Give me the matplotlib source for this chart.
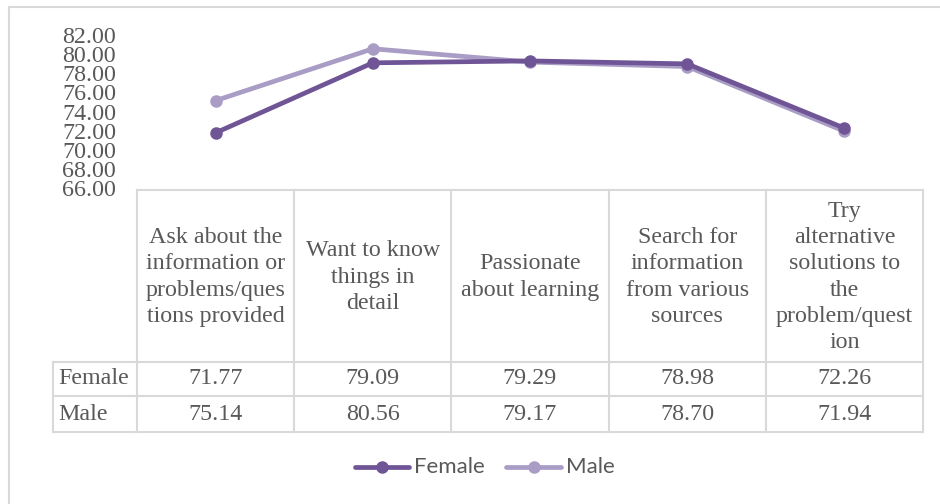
import matplotlib
matplotlib.use("Agg")
import matplotlib.pyplot as plt
from matplotlib.lines import Line2D

categories = [
    "Ask about the\ninformation or\nproblems/ques\ntions provided",
    "Want to know\nthings in\ndetail",
    "Passionate\nabout learning",
    "Search for\ninformation\nfrom various\nsources",
    "Try\nalternative\nsolutions to\nthe\nproblem/quest\nion",
]
series_names = ["Female", "Male"]
female = [71.77, 79.09, 79.29, 78.98, 72.26]
male = [75.14, 80.56, 79.17, 78.70, 71.94]
yticks = [66, 68, 70, 72, 74, 76, 78, 80, 82]

W, H = 940, 504
fig = plt.figure(figsize=(W / 100, H / 100), dpi=100)
fig.patch.set_facecolor("white")

def fx(px):
    return px / W

def fy(py):
    return 1 - py / H

serif = "Liberation Serif"
fs = 17.3
txt_col = "#595959"
grid_col = "#D9D9D9"
c_f = "#6F5596"
c_m = "#A99CC5"

# outer chart border (extends past right/bottom edges)
fig.add_artist(Line2D([fx(9), fx(9)], [fy(7), 0], color=grid_col, lw=1.5))
fig.add_artist(Line2D([fx(9), 1], [fy(7), fy(7)], color=grid_col, lw=1.5))

# plot area
L, R, T, B = 137, 923, 35, 188
ax = fig.add_axes([fx(L), fy(B), fx(R - L), (B - T) / H])
ax.set_xlim(-0.5, len(categories) - 0.5)
ax.set_ylim(yticks[0], yticks[-1])
for s in ax.spines.values():
    s.set_visible(False)
ax.set_xticks([])
ax.set_yticks(yticks)
ax.set_yticklabels([f"{v:.2f}" for v in yticks], fontfamily=serif, fontsize=fs, color=txt_col)
ax.tick_params(axis="y", length=0, pad=15)
ax.patch.set_alpha(0)

x = list(range(len(categories)))
ax.plot(x, female, color=c_f, lw=3.4, marker="o", ms=8, solid_capstyle="round", zorder=3)
ax.plot(x, male, color=c_m, lw=3.4, marker="o", ms=8, solid_capstyle="round", zorder=2)
for ln in ax.lines:
    ln.set_clip_on(False)

# data table
col_w = (R - L) / len(categories)
hdr_top, hdr_bot = 190, 362
row_bounds = [362, 396, 432]
lab_left = 53

def hline(x0, x1, y):
    fig.add_artist(Line2D([fx(x0), fx(x1)], [fy(y), fy(y)], color=grid_col, lw=1.5))

def vline(xp, y0, y1):
    fig.add_artist(Line2D([fx(xp), fx(xp)], [fy(y0), fy(y1)], color=grid_col, lw=1.5))

hline(L, R, hdr_top)
for yb in row_bounds:
    hline(lab_left, R, yb)
vline(lab_left, row_bounds[0], row_bounds[-1])
for i in range(len(categories) + 1):
    vline(L + i * col_w, hdr_top, row_bounds[-1])

for i, cat in enumerate(categories):
    cx = L + (i + 0.5) * col_w
    fig.text(fx(cx), fy((hdr_top + hdr_bot) / 2 + 1), cat, ha="center", va="center",
             fontfamily=serif, fontsize=fs, color=txt_col, linespacing=1.32)

for r, (name, vals) in enumerate(zip(series_names, [female, male])):
    cy = (row_bounds[r] + row_bounds[r + 1]) / 2
    fig.text(fx(58), fy(cy), name, ha="left", va="center", fontfamily=serif,
             fontsize=fs, color=txt_col)
    for i, v in enumerate(vals):
        cx = L + (i + 0.5) * col_w
        fig.text(fx(cx), fy(cy), f"{v:.2f}", ha="center", va="center", fontfamily=serif,
                 fontsize=fs, color=txt_col)

# legend
leg_y = 467
for (x0, x1, tx, col, name) in [(355, 409, 414, c_f, series_names[0]), (506, 561, 566, c_m, series_names[1])]:
    fig.add_artist(Line2D([fx(x0), fx(x1)], [fy(leg_y), fy(leg_y)], color=col, lw=3.4,
                          solid_capstyle="round"))
    fig.add_artist(Line2D([fx((x0 + x1) / 2)], [fy(leg_y)], color=col, marker="o", ms=8, lw=0))
    fig.text(fx(tx), fy(leg_y), name, ha="left", va="center", fontfamily="Lato",
             fontsize=16, color=txt_col)

fig.savefig("out.png", dpi=100, facecolor="white")
